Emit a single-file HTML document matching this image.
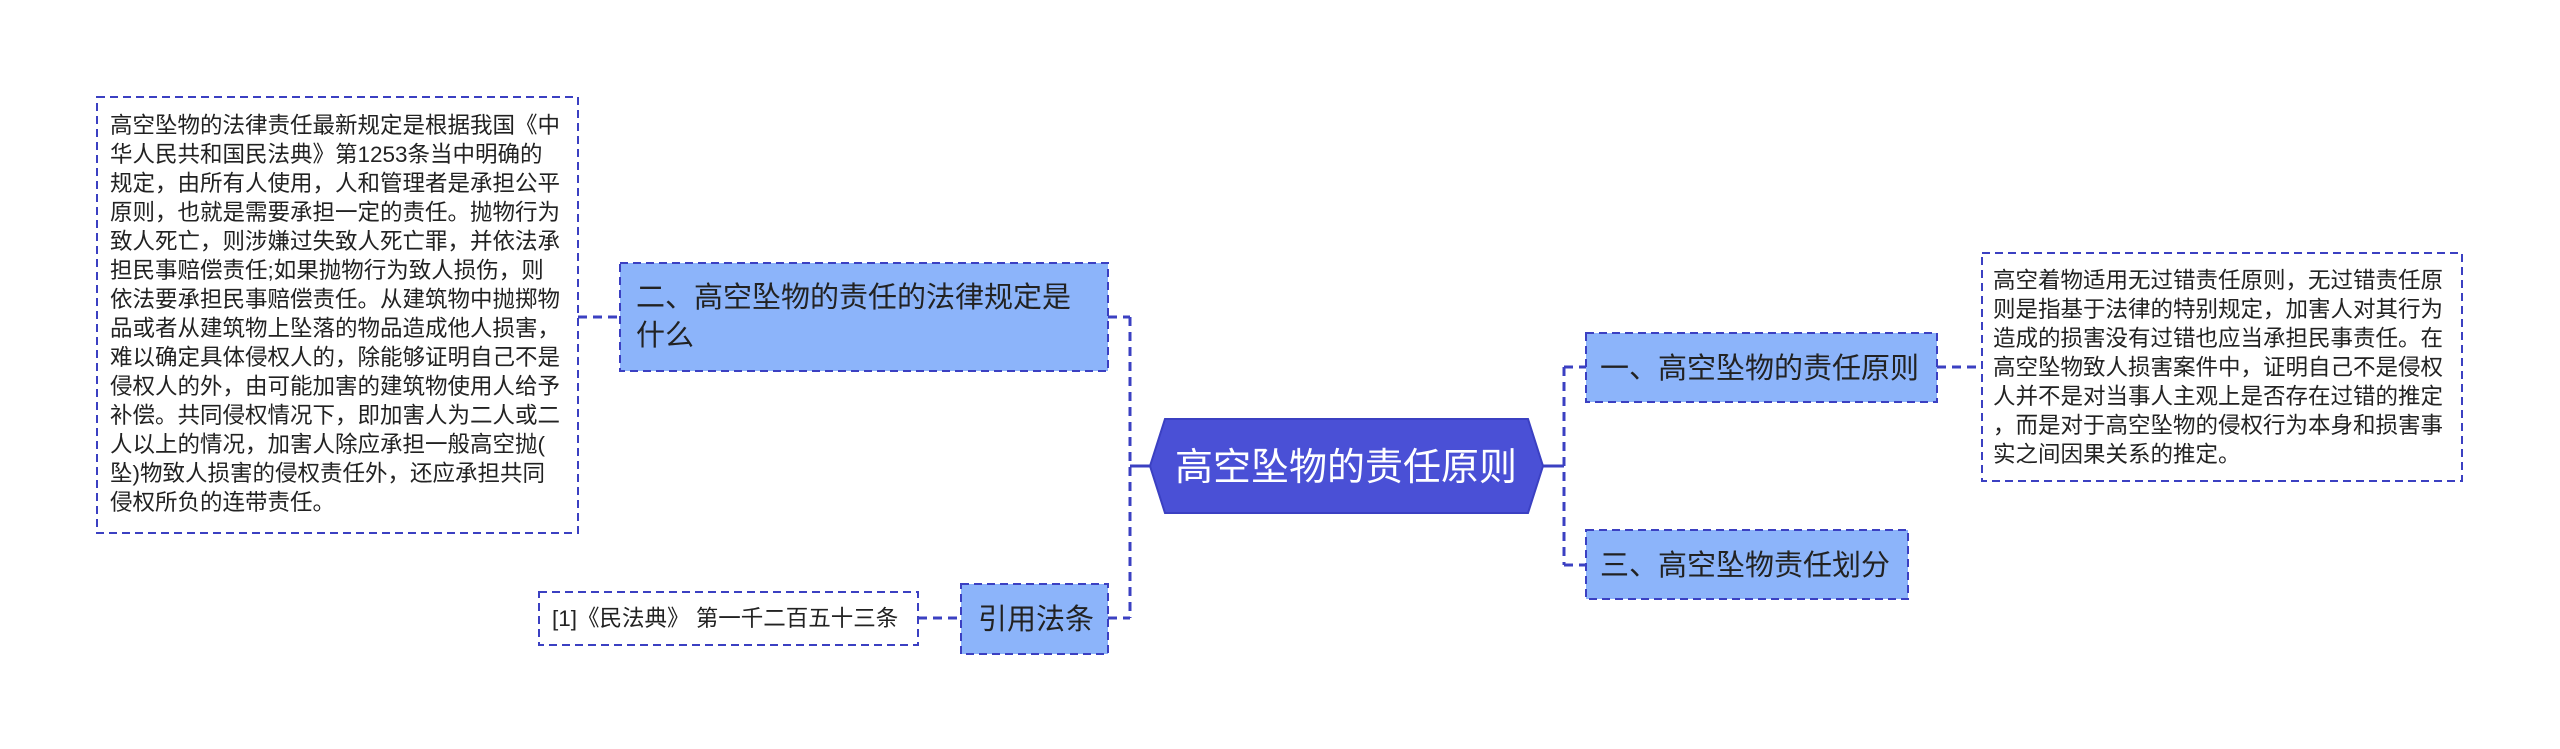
<!DOCTYPE html>
<html><head><meta charset="utf-8"><style>
html,body{margin:0;padding:0;background:#fff;width:2560px;height:749px;overflow:hidden}
svg{display:block}
.t{font-family:"Liberation Sans","Noto Sans CJK SC",sans-serif;fill:#222;font-size:22.5px}
.n{font-family:"Liberation Sans","Noto Sans CJK SC",sans-serif;fill:#222;font-size:29px}
</style></head><body>
<svg width="2560" height="749" viewBox="0 0 2560 749" xmlns="http://www.w3.org/2000/svg">
<g stroke="#3b40c2" stroke-width="3" fill="none" stroke-dasharray="9,6">
<path d="M1130 317 V618"/>
<path d="M1108 317 H1130"/>
<path d="M1108 618 H1130"/>
<path d="M578 317 H620"/>
<path d="M918 618 H961"/>
<path d="M1564 367 V565"/>
<path d="M1564 367 H1586"/>
<path d="M1564 565 H1586"/>
<path d="M1937 367 H1982"/>
</g>
<g stroke="#3b40c2" stroke-width="3">
<path d="M1130 466 H1150"/>
<path d="M1543 466 H1564"/>
</g>
<polygon points="1150,466 1165,419 1528,419 1543,466 1528,513 1165,513" fill="#4a50d6" stroke="#3b40c2" stroke-width="2"/>
<text x="1346" y="480" text-anchor="middle" font-family="Liberation Sans,Noto Sans CJK SC,sans-serif" font-size="38" fill="#fff">高空坠物的责任原则</text>
<g fill="#8cb4fa" stroke="#3b40c2" stroke-width="2" stroke-dasharray="8,5">
<rect x="620" y="263" width="488" height="108"/>
<rect x="961" y="584" width="147" height="70"/>
<rect x="1586" y="333" width="351" height="69"/>
<rect x="1586" y="530" width="322" height="69"/>
</g>
<g fill="#fff" stroke="#3b40c2" stroke-width="2" stroke-dasharray="8,5">
<rect x="97" y="97" width="481" height="436"/>
<rect x="539" y="592" width="379" height="53"/>
<rect x="1982" y="253" width="480" height="228"/>
</g>
<text class="n" x="636" y="307">二、高空坠物的责任的法律规定是</text>
<text class="n" x="636" y="345">什么</text>
<text class="n" x="978" y="629">引用法条</text>
<text class="n" x="1600" y="378">一、高空坠物的责任原则</text>
<text class="n" x="1600" y="575">三、高空坠物责任划分</text>
<text class="t" x="552" y="626">[1]《民法典》 第一千二百五十三条</text>
<g class="t">
<text x="110" y="133">高空坠物的法律责任最新规定是根据我国《中</text>
<text x="110" y="162">华人民共和国民法典》第1253条当中明确的</text>
<text x="110" y="191">规定，由所有人使用，人和管理者是承担公平</text>
<text x="110" y="220">原则，也就是需要承担一定的责任。抛物行为</text>
<text x="110" y="249">致人死亡，则涉嫌过失致人死亡罪，并依法承</text>
<text x="110" y="278">担民事赔偿责任;如果抛物行为致人损伤，则</text>
<text x="110" y="307">依法要承担民事赔偿责任。从建筑物中抛掷物</text>
<text x="110" y="336">品或者从建筑物上坠落的物品造成他人损害，</text>
<text x="110" y="365">难以确定具体侵权人的，除能够证明自己不是</text>
<text x="110" y="394">侵权人的外，由可能加害的建筑物使用人给予</text>
<text x="110" y="423">补偿。共同侵权情况下，即加害人为二人或二</text>
<text x="110" y="452">人以上的情况，加害人除应承担一般高空抛(</text>
<text x="110" y="481">坠)物致人损害的侵权责任外，还应承担共同</text>
<text x="110" y="510">侵权所负的连带责任。</text>
</g>
<g class="t">
<text x="1993" y="288">高空着物适用无过错责任原则，无过错责任原</text>
<text x="1993" y="317">则是指基于法律的特别规定，加害人对其行为</text>
<text x="1993" y="346">造成的损害没有过错也应当承担民事责任。在</text>
<text x="1993" y="375">高空坠物致人损害案件中，证明自己不是侵权</text>
<text x="1993" y="404">人并不是对当事人主观上是否存在过错的推定</text>
<text x="1993" y="433">，而是对于高空坠物的侵权行为本身和损害事</text>
<text x="1993" y="462">实之间因果关系的推定。</text>
</g>
</svg>
</body></html>
